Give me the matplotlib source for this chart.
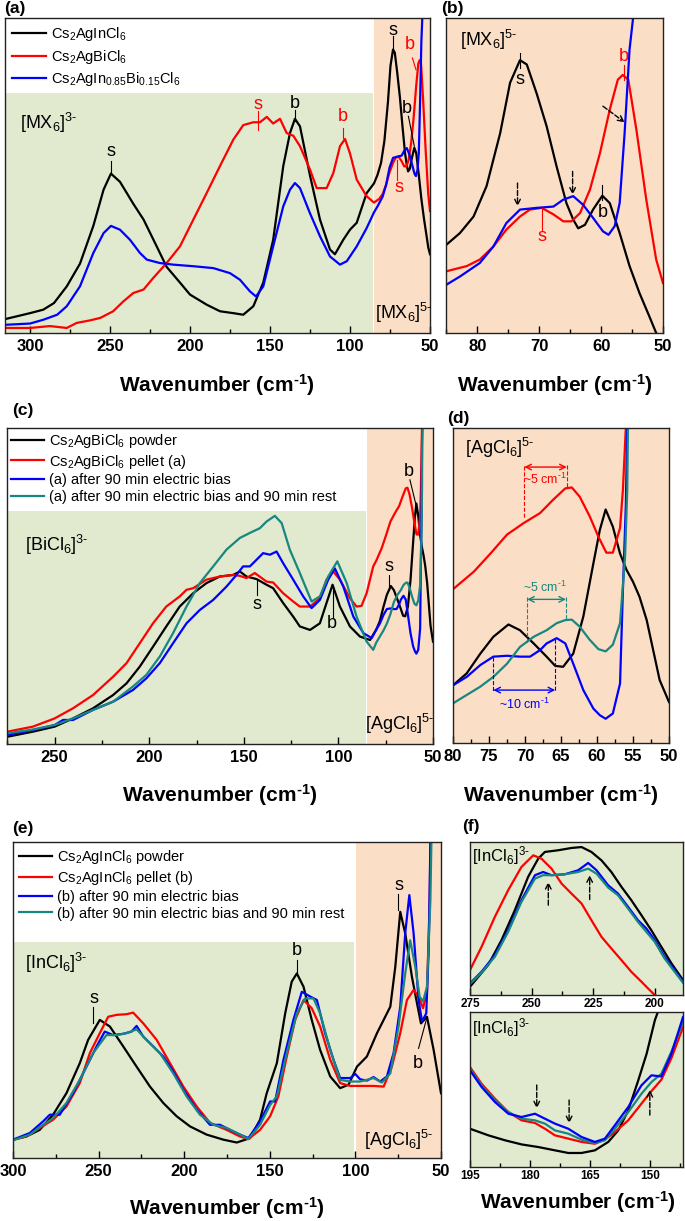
import numpy as np
import matplotlib as mpl
mpl.use('Agg')
import matplotlib.pyplot as plt
from matplotlib.ticker import MultipleLocator

plt.rcParams['font.family'] = ['Liberation Sans', 'DejaVu Sans']
plt.rcParams['mathtext.fontset'] = 'custom'
plt.rcParams['mathtext.rm'] = 'Liberation Sans'
plt.rcParams['mathtext.it'] = 'Liberation Sans:italic'
plt.rcParams['mathtext.bf'] = 'Liberation Sans:bold'

# ---- panel (a)/(b): Cs2AgInCl6, Cs2AgBiCl6, mixed (same data, two x windows)
a_wn_black = [315.6, 300, 291.7, 285, 277, 268.75, 260.4, 254, 249.4, 243.75, 235.4, 229, 220.8, 214.6,
              206.25, 200, 189.6, 181.25, 172.9, 166.7, 160.4, 154.2, 148, 141.7, 137.5, 134.4, 131.25,
              125, 118.75, 112.5, 109.4, 104.2, 100, 95.8, 89.6,
              85, 82.8, 80.6, 78.5, 76.3, 74.7, 73.1, 72, 70.4, 68.8, 67.2, 65.6, 64.5, 63.7, 62.6,
              61.3, 59.8, 58.6, 57, 55.4, 53.8, 52.2, 51.1, 50]
a_int_black = [4.4, 6.3, 7.4, 9.5, 14.8, 22, 34, 45.5, 50.6, 48, 41, 36, 27.5, 21,
               16, 12.2, 9, 6.9, 6.3, 5.8, 8.5, 16, 29.6, 53, 63.5, 68, 65.6,
               50, 36, 26.5, 25, 29.6, 32.8, 35, 44.4,
               47.5, 50.2, 54, 61, 73.2, 84.8, 90, 89, 82.3, 74.8, 65.6, 57.1, 53.3, 51.3, 52.1,
               55.6, 58.8, 57.1, 50.2, 42.6, 36.4, 31, 27.2, 25]
a_wn_red = [315.6, 300, 287.5, 277, 270.8, 262.5, 256, 248, 241.7, 235.4, 229, 222.9, 214.6, 206.25,
            197.9, 189.6, 181.25, 172.9, 166.7, 160.4, 156.25, 152, 148, 143.75, 139.6, 135.4, 131.25,
            125, 120.8, 114.6, 110.4, 106.25, 103.1, 100, 95.8, 89.6,
            85, 81.7, 79.6, 77.4, 75.3, 73.1, 71.5, 69.6, 67.7, 66.1, 64.8, 63.4, 61.8, 60.2, 58.6,
            57.3, 56.5, 55.6, 54.3, 52.7, 51.1, 50]
a_int_red = [1.6, 1.6, 2.2, 1.6, 3.2, 4, 4.8, 6.9, 10, 12.7, 13.8, 17.5, 22.2, 27.5,
             36, 44.4, 53, 61.4, 66, 66.9, 66.9, 68.6, 66.5, 68, 63.5, 62.6, 59.3,
             51.9, 46, 46, 50.8, 59.3, 61.6, 57, 48.7, 43.4,
             41.4, 42.6, 44.1, 47.1, 51, 54, 55.6, 56, 54.5, 52.9, 52.9, 54.8, 60.2, 68.5, 78.6,
             85.5, 86.6, 85.5, 74, 57.9, 44.1, 38.7]
a_wn_blue = [315.6, 300, 291.7, 283, 277, 268.75, 260.4, 254, 249.4, 243.75, 237.5, 231.25, 227, 218.75,
             210.4, 197.9, 185.4, 175, 168.75, 162.5, 158.75, 154.2, 148, 141.7, 137.5, 134.4, 131.25,
             125, 118.75, 112.5, 106.25, 102, 95.8, 89.6,
             85, 82.8, 79.6, 77.4, 75.3, 73.1, 70.4, 67.7, 66.1, 64.5, 62.9, 61.3, 59.7, 58.8, 57.8,
             57, 56.2, 55.4, 54.8, 53.8, 50]
a_int_blue = [2.6, 3, 4.2, 5.8, 8.5, 14.8, 25.4, 31.7, 34, 32.8, 29.6, 25.4, 23.3, 22.2,
              21.7, 21.2, 20.6, 19, 16.9, 13.2, 11.6, 14.8, 27.5, 40.2, 45.5, 47.6, 46,
              38, 30.7, 24.3, 21.7, 22.8, 27.5, 33.3,
              38.3, 40.2, 43.3, 47.1, 52.5, 55.6, 56, 56.3, 57.9, 58.7, 56.7, 53.7, 50.6, 49.8, 51.8,
              57.1, 73.2, 92.5, 100.1, 115, 140]

# ---- panel (c)/(d): Cs2AgBiCl6 powder / pellet / bias / bias+rest
c_wn_black = [275, 261.5, 250, 240.3, 229.7, 219.1, 212, 205, 198, 191, 183.9, 176.8, 169.8, 162.7,
              155.6, 152.1, 148.6, 143.3, 138, 134.5, 129.2, 123.9, 120.4, 115, 109.8, 106.3, 103.1,
              99.2, 93.9, 88.6, 83.3,
              80, 78.1, 76.2, 74.4, 72.3, 70.7, 68.8, 67, 65.8, 64.7, 63.3, 61.9, 60.5, 59.6, 58.8,
              57.8, 56.8, 55.9, 55, 54.1, 53.1, 52.2, 51.3, 50]
c_int_black = [2.3, 3.9, 5.5, 8.1, 11.3, 15.5, 19.2, 24.5, 30.8, 37.2, 43.5, 47.7, 50.9, 53,
               53.5, 54.6, 53, 52.2, 50.4, 49.3, 44.6, 40.3, 37.2, 36.1, 38.2, 44.6, 50.4,
               43.5, 37.2, 34, 32.9,
               36.2, 38.9, 43.4, 47.2, 50, 48.7, 45.7, 42.7, 40.6, 40.4, 43.4, 51.8, 63.9, 71.5, 76.1,
               72.2, 66.1, 62.4, 59.7, 56.3, 51, 44.2, 37.4, 32.4]
c_wn_red = [275, 261.5, 250, 240.3, 229.7, 219.1, 212, 205, 198, 191, 183.9, 180.3, 176.8, 169.8,
            162.7, 155.6, 152.1, 148.6, 144.2, 138, 134.5, 129.2, 123.9, 120.4, 115, 109.8, 106.3,
            102.7, 99.2, 93.9, 90.4, 87.8, 85.1, 81.6,
            80, 77.1, 74.8, 72.5, 70.2, 67.9, 66.1, 64.4, 63.5, 62.4, 61, 59.8, 58.7, 57.8, 56.8,
            56.4, 56, 55.5, 50]
c_int_red = [3.9, 5.5, 8.1, 11.3, 15.5, 21.3, 25.6, 31.9, 38.2, 43.5, 46.7, 48.8, 49.3, 52,
             53, 53.5, 53.2, 52.5, 54.1, 51.4, 51.1, 47.7, 45.1, 43.5, 43.5, 46.1, 52,
             54.6, 52, 46.1, 43.5, 43.7, 47.7, 56.2,
             58, 62, 66.1, 70.4, 73, 75.3, 78.3, 80.9, 81.1, 79, 74.5, 69.9, 66.3, 66.3, 71.9,
             80.6, 94.6, 110, 120]
c_wn_blue = [275, 261.5, 250, 245.6, 240.3, 229.7, 219.1, 208.6, 201.5, 194.4, 187.4, 180.3, 173.3,
             166.2, 159.2, 153.9, 150.4, 146.8, 143.3, 139.8, 136.2, 132.7, 129.2, 123.9, 118.6,
             114.2, 109.8, 105.4, 101.9, 97.4, 92.1, 86.8, 82.4,
             80, 78.1, 76.2, 74.4, 72.5, 70.7, 69.3, 67.9, 67, 65.6, 64.4, 63.3, 61.9, 60.5, 59.6,
             58.8, 57.8, 56.8, 56.4, 56, 55.8, 55.4, 50]
c_int_blue = [2.9, 4.4, 6, 7.6, 7.6, 10.8, 13.4, 17.1, 20.8, 25.6, 31.9, 38.2, 42.4,
              45.6, 49.8, 53.5, 56.2, 56.2, 58.3, 60.4, 59.9, 60.9, 57.2, 52, 46.7,
              43, 45.6, 52, 55.6, 49.8, 40.3, 35.1, 33.5,
              36.2, 38.1, 40.8, 42.7, 42.9, 42.7, 42.7, 44.2, 45.7, 46.9, 45.7, 41.1, 35.1, 30.9, 29.4,
              28.6, 29.8, 36.6, 57.9, 76.8, 94.6, 110, 120]
c_wn_teal = [275, 261.5, 250, 240.3, 229.7, 219.1, 208.6, 201.5, 194.4, 187.4, 180.3, 173.3, 166.2,
             159.2, 152.1, 146.8, 141.5, 138, 133.6, 130, 125.7, 120.4, 114.2, 109.8, 105.4, 100.6,
             95.6, 90.4, 85.1, 81.6,
             80, 78.1, 76.2, 74.4, 72.5, 70.7, 68.8, 67, 65.6, 64.4, 63.5, 62.4, 61, 59.8, 58.8,
             57.8, 56.8, 56.1, 55.8, 55.7, 55.3, 50]
c_int_teal = [3.4, 4.6, 6, 8.1, 10.8, 13.4, 18.2, 21.9, 27.7, 35.1, 43.5, 50.9, 56.2,
              61.5, 65.2, 66.8, 68.3, 70.4, 72.2, 69.9, 61.5, 54.1, 45.1, 46.7, 53, 57.8,
              50.9, 40.3, 32.4, 29.8,
              32.1, 34, 35.9, 38.1, 41.1, 44.9, 47.2, 48.7, 50.3, 51, 51.1, 49.5, 46.5, 44.4, 43.9,
              45.4, 50.3, 65.4, 80.6, 94.6, 110, 120]

# ---- panel (e): Cs2AgInCl6 powder / pellet / bias / bias+rest
e_wn_black = [300, 292.2, 284.4, 276.6, 268.8, 261, 256.1, 249.3, 243.4, 235.6, 227.8, 220, 212.2,
              204.4, 196.6, 186.9, 177.1, 169.3, 161.5, 155.7, 151.8, 145.9, 141, 137.2, 134.2,
              130.3, 125.5, 120.6, 114.7, 108.9, 104, 99.1, 93.3, 87.4, 79.6, 76.7, 73.8, 70.9, 67,
              64, 61.7, 58.2, 54.3, 50]
e_int_black = [5.8, 6.8, 8.9, 13.7, 20.5, 30, 37.4, 43.7, 41.6, 35.3, 28.9, 22.6, 17.4,
               13.2, 10, 7.4, 5.8, 4.9, 6.3, 12.1, 20.5, 30, 45.8, 55.8, 58.4,
               54.2, 43.7, 34.2, 25.8, 22.1, 23.2, 28.9, 32.1, 39.5, 47.9, 60.5, 77.9, 71.1, 57.4,
               48.9, 42.6, 44.7, 34.2, 20.5]
e_wn_red = [300, 292.2, 284.4, 276.6, 268.8, 261, 255.1, 249.3, 244.4, 239.5, 233.7, 229.8, 223.9,
            216.1, 208.3, 200.5, 192.7, 184.9, 175.2, 167.4, 162.5, 155.7, 149.8, 145, 140.1,
            135.2, 130.3, 125.5, 120.6, 114.7, 108.9, 103, 97.2, 89.4, 83.5, 78.7, 73.8, 69.9, 66,
            63.1, 60.5, 58.2, 56.6, 55.9, 50]
e_int_red = [5.8, 6.8, 9.5, 12.1, 16.3, 23.7, 33.2, 39.5, 44.7, 45.3, 45.5, 46, 42.6,
             37.4, 30, 22.6, 16.3, 11.1, 8.9, 6.8, 6, 8.9, 13.2, 19.5, 32.1,
             43.7, 50, 47.4, 41.6, 31.1, 23.7, 22.8, 22.8, 22.8, 22.6, 28.9, 39.5, 50, 53.2,
             51.1, 47.4, 52.6, 81.6, 110, 130]
e_wn_blue = [300, 290.2, 282.4, 278.5, 272.7, 264.9, 257.1, 251.2, 246.4, 241.5, 235.6, 230.8, 227.8,
             223.9, 218.1, 212.2, 206.4, 200.5, 192.7, 184.9, 179.1, 173.2, 167.4, 162.5, 155.7,
             149.8, 146.9, 142, 136.2, 131.3, 126.4, 122.5, 117.7, 112.8, 108.9, 103, 100.1, 97.2,
             93.3, 89.4, 85.5, 81.6, 77.7, 73.8, 70.9, 68.5, 66, 63.1, 61.1, 58.6, 57.2, 55.9, 50]
e_int_blue = [5.8, 7.9, 11.6, 13.7, 13.7, 20.5, 28.9, 35.3, 40, 38.9, 39.3, 40, 41.8,
              38.4, 35.3, 32.1, 27.4, 21.6, 15.3, 10.5, 10.5, 8.9, 7.4, 6.3, 11.6,
              17.9, 17.9, 31.1, 43.7, 52.6, 51.1, 50, 39.5, 31.1, 25.3, 25.3, 26.6, 24.9,
              24.5, 25.6, 24.2, 25.8, 33.2, 47.9, 71.1, 83.2, 71.1, 50, 43.2, 45.8, 65.8, 110, 130]
e_wn_teal = [300, 290.2, 282.4, 276.6, 268.8, 261, 253.2, 245.4, 239.5, 233.7, 227.8, 222, 214.2,
             206.4, 198.6, 190.8, 183, 175.2, 167.4, 162.5, 155.7, 149.8, 145.9, 140.1, 134.2,
             129.4, 124.5, 120.6, 114.7, 108.9, 103, 97.2, 89.4, 84.5, 79.6, 74.8, 70.9, 68, 65,
             62.5, 60.5, 58.2, 56.2, 55.3, 50]
e_int_teal = [5.6, 7.4, 10.5, 12.6, 17.4, 24.7, 33.2, 38.9, 38.9, 39.5, 40.7, 37.4, 33.2,
              26.8, 19.5, 13.7, 10.5, 9.5, 7.4, 6, 10.5, 16.8, 19.5, 33.2, 45.8,
              50.5, 50.5, 45.8, 34.2, 24.7, 24.2, 24.2, 25.3, 23.9, 26.8, 41.6, 58.4, 68.9, 60.5,
              51.1, 49.5, 54.2, 81.6, 110, 130]

# ---- panel (f), upper window 275-189 cm-1
f1_wn = [275, 270.3, 264.9, 259.5, 254.1, 248.6, 245.3, 241.9, 236.5, 231.1, 227, 223.6, 218.9,
         214.9, 210.8, 206.8, 203.4, 200, 196, 191.9, 188.5]
f1_int_blue = [7.6, 15.2, 26.1, 42.4, 62, 78.3, 80.4, 78.3, 78.9, 81.5, 86.3, 81.5, 71.7,
               66.3, 57.6, 48.9, 43.5, 35.9, 25, 16.3, 8.7]
f1_int_teal = [7.2, 14.6, 25, 41.3, 60.9, 76.1, 78.3, 78.3, 78.9, 80.4, 82.6, 79.3, 70.2,
               65.2, 56.5, 47.8, 41.3, 34.8, 23.9, 15.2, 8]
f1_wn_black = [275, 267.6, 262.2, 256.8, 251.4, 247.3, 244.6, 239.2, 233.8, 229.7, 225.7, 221.6,
               217.6, 213.5, 209.5, 205.4, 201.4, 197.3, 193.2, 188.5]
f1_int_black = [5.4, 19.6, 35.9, 55.4, 77.2, 89.1, 93.5, 94.6, 96.1, 96.7, 93.5, 88,
                80.4, 70.7, 62, 52.2, 42.4, 31.5, 20.7, 9.8]
f1_wn_red = [275, 270.3, 264.9, 259.5, 254.1, 249.3, 246, 241.9, 237.8, 233.8, 229.7, 225.7,
             221.6, 217.6, 213.5, 209.5, 205.4, 202.7, 200, 190]
f1_int_red = [16.3, 31.5, 51.1, 68.5, 83.7, 91.3, 89.1, 82.6, 72.8, 66.3, 59.8, 48.9,
              38, 30.4, 22.8, 15.2, 8.7, 4.3, 0, -10]

# ---- panel (f), lower window 195-142 cm-1
f2_wn = [195, 192.1, 188.75, 185.4, 182.1, 178.75, 176.25, 173.75, 170.4, 167.1, 163.75, 161.25,
         158.75, 155.4, 152.1, 149.6, 147.1, 144.6, 141.7]
f2_int_red = [60.6, 50.5, 41.4, 33.3, 28.3, 26.7, 23.2, 19.2, 17.2, 15.2, 14.1, 16.6,
              21.2, 28.3, 38.4, 46, 53, 66, 84.8]
f2_int_blue = [58.6, 48.5, 39.4, 32.3, 30.3, 32.3, 29.3, 26.3, 23.2, 18.2, 15.2, 17.2,
               25.3, 36.4, 49.5, 55.6, 54.9, 68.7, 90.9]
f2_int_teal = [59.6, 49.5, 40.4, 33.3, 29.3, 28.3, 26.3, 22.2, 20.2, 16.6, 14.5, 16.2,
               23.2, 33.3, 44.4, 51.5, 56.6, 70, 87.9]
f2_wn_black = [195, 190.4, 186.25, 182.1, 177.9, 173.75, 170.4, 167.1, 163.75, 160.4, 157.9,
               155.4, 152.9, 150.8, 148.75, 147.1, 145]
f2_int_black = [23.2, 19.2, 16.2, 13.7, 12.1, 10.1, 8.5, 8.5, 10.1, 15.2, 22.2,
                34.3, 52.5, 68.7, 88.9, 100, 115]

legend_a = ['Cs$_2$AgInCl$_6$', 'Cs$_2$AgBiCl$_6$', 'Cs$_2$AgIn$_{0.85}$Bi$_{0.15}$Cl$_6$']
legend_c = ['Cs$_2$AgBiCl$_6$ powder', 'Cs$_2$AgBiCl$_6$ pellet (a)',
            '(a) after 90 min electric bias', '(a) after 90 min electric bias and 90 min rest']
legend_e = ['Cs$_2$AgInCl$_6$ powder', 'Cs$_2$AgInCl$_6$ pellet (b)',
            '(b) after 90 min electric bias', '(b) after 90 min electric bias and 90 min rest']

BLACK, RED, BLUE, TEAL = 'k', '#ff0000', '#0000ff', '#17877f'
GREEN_BG, ORANGE_BG = '#e1e9cf', '#fbdec6'
LW = 1.6
W, H = 685, 1221

fig = plt.figure(figsize=(W / 100, H / 100), dpi=100)


def px_axes(x0, y0, x1, y1):
    return fig.add_axes([x0 / W, 1 - y1 / H, (x1 - x0) / W, (y1 - y0) / H])


def style(ax, xlim, ylim, major, minor, tsize=12):
    ax.set_xlim(*xlim)
    ax.set_ylim(*ylim)
    ax.set_xticks(major)
    ax.xaxis.set_minor_locator(MultipleLocator(minor))
    ax.set_yticks([])
    ax.tick_params(axis='x', which='both', direction='in', labelsize=tsize, pad=4)
    ax.tick_params(axis='x', which='major', length=5, width=1)
    ax.tick_params(axis='x', which='minor', length=3, width=1)
    plt.setp(ax.get_xticklabels(), fontweight='bold')
    for sp in ax.spines.values():
        sp.set_linewidth(1.0)
        sp.set_color('#222222')


def mark(ax, s, color, tx, ty, lx0, ly0, lx1, ly1, size=13):
    # text label + short marker line; y given as axes fraction
    tr = ax.get_xaxis_transform()
    ax.text(tx, ty, s, color=color, fontsize=size, ha='center', va='center', transform=tr)
    ax.plot([lx0, lx1], [ly0, ly1], color=color, lw=0.8, transform=tr)


def arrow(ax, x0, y0, x1, y1, color='k', style='->', ls='--'):
    tr = ax.get_xaxis_transform()
    ax.annotate('', xy=(x1, y1), xytext=(x0, y0), xycoords=tr, textcoords=tr,
                arrowprops=dict(arrowstyle=style, color=color, lw=1.0, ls=ls,
                                shrinkA=0, shrinkB=0, mutation_scale=10))


def region_text(ax, s, x, y, size=13):
    ax.text(x, y, s, fontsize=size, ha='left', va='center', transform=ax.get_xaxis_transform())


# ================= (a)
ax = px_axes(5, 18, 430, 333)
ax.axvspan(315.6, 85.6, ymin=0, ymax=0.762, color=GREEN_BG, lw=0)
ax.axvspan(85.2, 50, color=ORANGE_BG, lw=0)
ax.plot(a_wn_black, a_int_black, color=BLACK, lw=LW, label=legend_a[0])
ax.plot(a_wn_red, a_int_red, color=RED, lw=LW, label=legend_a[1])
ax.plot(a_wn_blue, a_int_blue, color=BLUE, lw=LW, label=legend_a[2])
style(ax, (315.6, 50), (0, 100), [300, 250, 200, 150, 100, 50], 25)
ax.legend(loc='upper left', frameon=False, fontsize=10.5, handlelength=2.3, handletextpad=0.35,
          labelspacing=0.3, borderaxespad=0.2, borderpad=0.3)
mark(ax, 's', BLACK, 249.4, 0.577, 249.4, 0.545, 249.4, 0.508)
mark(ax, 's', RED, 157.3, 0.725, 157.3, 0.704, 157.3, 0.646)
mark(ax, 'b', BLACK, 134.4, 0.728, 134.4, 0.709, 134.4, 0.672)
mark(ax, 'b', RED, 104.2, 0.688, 104.2, 0.651, 104.2, 0.619)
mark(ax, 's', BLACK, 72.9, 0.96, 72.9, 0.942, 72.9, 0.902)
mark(ax, 'b', RED, 62.5, 0.917, 61.0, 0.873, 58.75, 0.836)
mark(ax, 'b', BLACK, 64.2, 0.714, 63.5, 0.688, 59.8, 0.593)
mark(ax, 's', RED, 69.4, 0.463, 70.4, 0.487, 70.4, 0.55)
region_text(ax, '[MX$_6$]$^{3\u2010}$', 306.3, 0.667)
region_text(ax, '[MX$_6$]$^{5\u2010}$', 84.4, 0.063)

# ================= (b)
ax = px_axes(446, 18, 663, 333)
ax.set_facecolor(ORANGE_BG)
ax.plot(a_wn_black, a_int_black, color=BLACK, lw=LW)
ax.plot(a_wn_red, a_int_red, color=RED, lw=LW)
ax.plot(a_wn_blue, a_int_blue, color=BLUE, lw=LW)
style(ax, (85.05, 50), (27.2, 99.7), [80, 70, 60, 50], 5)
mark(ax, 's', BLACK, 73.1, 0.804, 73.1, 0.889, 73.1, 0.841)
mark(ax, 'b', RED, 56.3, 0.878, 56.3, 0.852, 56.3, 0.804)
mark(ax, 'b', BLACK, 59.8, 0.381, 59.8, 0.471, 59.8, 0.423)
mark(ax, 's', RED, 69.6, 0.307, 69.6, 0.397, 69.6, 0.328)
region_text(ax, '[MX$_6$]$^{5\u2010}$', 82.8, 0.931)
arrow(ax, 73.5, 0.476, 73.5, 0.402)
arrow(ax, 64.6, 0.513, 64.6, 0.439)
arrow(ax, 59.7, 0.720, 56.2, 0.669)

# ================= (c)
ax = px_axes(7, 428, 433, 744)
ax.axvspan(275.2, 85.6, ymin=0, ymax=0.736, color=GREEN_BG, lw=0)
ax.axvspan(85.0, 50, color=ORANGE_BG, lw=0)
ax.plot(c_wn_black, c_int_black, color=BLACK, lw=LW, label=legend_c[0])
ax.plot(c_wn_red, c_int_red, color=RED, lw=LW, label=legend_c[1])
ax.plot(c_wn_blue, c_int_blue, color=BLUE, lw=LW, label=legend_c[2])
ax.plot(c_wn_teal, c_int_teal, color=TEAL, lw=LW, label=legend_c[3])
style(ax, (275.2, 50), (0, 100), [250, 200, 150, 100, 50], 25)
ax.legend(loc='upper left', frameon=False, fontsize=10.5, handlelength=2.3, handletextpad=0.35,
          labelspacing=0.2, borderaxespad=0.1, borderpad=0.15)
mark(ax, 's', BLACK, 142.8, 0.44, 142.8, 0.52, 142.8, 0.472)
mark(ax, 'b', BLACK, 103.6, 0.382, 103.1, 0.498, 103.1, 0.403)
mark(ax, 's', BLACK, 73.3, 0.562, 73.3, 0.535, 73.3, 0.488)
mark(ax, 'b', BLACK, 63.0, 0.863, 62.2, 0.836, 59.0, 0.757)
region_text(ax, '[BiCl$_6$]$^{3\u2010}$', 265.9, 0.63)
region_text(ax, '[AgCl$_6$]$^{5\u2010}$', 85.9, 0.062)

# ================= (d)
ax = px_axes(453, 428, 669, 743)
ax.set_facecolor(ORANGE_BG)
ax.plot(c_wn_black, c_int_black, color=BLACK, lw=LW)
ax.plot(c_wn_red, c_int_red, color=RED, lw=LW)
ax.plot(c_wn_blue, c_int_blue, color=BLUE, lw=LW)
ax.plot(c_wn_teal, c_int_teal, color=TEAL, lw=LW)
style(ax, (80, 50), (23.1, 94.6), [80, 75, 70, 65, 60, 55, 50], 2.5)
region_text(ax, '[AgCl$_6$]$^{5\u2010}$', 78.3, 0.936)
tr = ax.get_xaxis_transform()
for col, xa, xb, ya0, ya1, yb0, yb1, yarr, txt, tx, ty in [
        (RED, 70.1, 64.2, 0.878, 0.714, 0.883, 0.809, 0.876, '~5 cm$^{\u20101}$', 67.2, 0.838),
        (TEAL, 69.7, 64.3, 0.464, 0.316, 0.464, 0.390, 0.456, '~5 cm$^{\u20101}$', 67.2, 0.493),
        (BLUE, 74.4, 65.8, 0.274, 0.162, 0.329, 0.162, 0.168, '~10 cm$^{\u20101}$', 70.1, 0.123)]:
    ax.plot([xa, xa], [ya0, ya1], color=col, lw=0.8, ls='--', transform=tr)
    ax.plot([xb, xb], [yb0, yb1], color=col, lw=0.8, ls='--', transform=tr)
    arrow(ax, xa, yarr, xb, yarr, color=col, style='<->', ls='-')
    ax.text(tx, ty, txt, color=col, fontsize=9, ha='center', va='center', transform=tr)

# ================= (e)
ax = px_axes(13, 842, 441, 1158)
ax.axvspan(300, 100.6, ymin=0, ymax=0.684, color=GREEN_BG, lw=0)
ax.axvspan(99.8, 50, color=ORANGE_BG, lw=0)
ax.plot(e_wn_black, e_int_black, color=BLACK, lw=LW, label=legend_e[0])
ax.plot(e_wn_red, e_int_red, color=RED, lw=LW, label=legend_e[1])
ax.plot(e_wn_blue, e_int_blue, color=BLUE, lw=LW, label=legend_e[2])
ax.plot(e_wn_teal, e_int_teal, color=TEAL, lw=LW, label=legend_e[3])
style(ax, (300, 50), (0, 100), [300, 250, 200, 150, 100, 50], 25)
ax.legend(loc='upper left', frameon=False, fontsize=10.5, handlelength=2.3, handletextpad=0.35,
          labelspacing=0.2, borderaxespad=0.1, borderpad=0.3)
mark(ax, 's', BLACK, 252.6, 0.505, 253.2, 0.479, 253.2, 0.426)
mark(ax, 'b', BLACK, 134.2, 0.656, 134.2, 0.626, 134.2, 0.584)
mark(ax, 's', BLACK, 74.8, 0.863, 75.4, 0.837, 75.4, 0.784)
mark(ax, 'b', BLACK, 63.7, 0.30, 63.1, 0.347, 58.6, 0.437)
region_text(ax, '[InCl$_6$]$^{3\u2010}$', 293.2, 0.616)
region_text(ax, '[AgCl$_6$]$^{5\u2010}$', 94.7, 0.056)

# ================= (f) upper
ax = px_axes(470, 842, 683, 995)
ax.set_facecolor(GREEN_BG)
ax.plot(f1_wn_black, f1_int_black, color=BLACK, lw=LW)
ax.plot(f1_wn_red, f1_int_red, color=RED, lw=LW)
ax.plot(f1_wn, f1_int_blue, color=BLUE, lw=LW)
ax.plot(f1_wn, f1_int_teal, color=TEAL, lw=LW)
style(ax, (275, 188.5), (0, 100), [275, 250, 225, 200], 12.5, tsize=8.5)
ax.tick_params(axis='x', pad=2)
region_text(ax, '[InCl$_6$]$^{3\u2010}$', 274.3, 0.913, size=12)
arrow(ax, 243.2, 0.587, 243.2, 0.739)
arrow(ax, 226.4, 0.624, 226.4, 0.783)

# ================= (f) lower
ax = px_axes(470, 1012, 683, 1167)
ax.set_facecolor(GREEN_BG)
ax.plot(f2_wn_black, f2_int_black, color=BLACK, lw=LW)
ax.plot(f2_wn, f2_int_red, color=RED, lw=LW)
ax.plot(f2_wn, f2_int_teal, color=TEAL, lw=LW)
ax.plot(f2_wn, f2_int_blue, color=BLUE, lw=LW)
style(ax, (195, 141.7), (0, 94), [195, 180, 165, 150], 7.5, tsize=8.5)
ax.tick_params(axis='x', pad=2)
region_text(ax, '[InCl$_6$]$^{3\u2010}$', 194.6, 0.9, size=12)
arrow(ax, 178.3, 0.529, 178.3, 0.378)
arrow(ax, 170.2, 0.432, 170.2, 0.282)
arrow(ax, 150.0, 0.335, 150.0, 0.497)

# ---- panel letters and axis titles
for s, x, y in [('(a)', 4, 8), ('(b)', 441, 8), ('(c)', 12, 411), ('(d)', 447, 419),
                ('(e)', 12, 828), ('(f)', 462, 827)]:
    fig.text(x / W, 1 - y / H, s, fontsize=12.5, fontweight='bold', ha='left', va='center')
xlab = 'Wavenumber (cm$^{\\mathbf{\u20101}}$)'
for x, y in [(217, 385), (555, 385), (220, 795), (561, 795), (227, 1208), (578, 1202)]:
    fig.text(x / W, 1 - y / H, xlab, fontsize=15, fontweight='bold', ha='center', va='center')

fig.savefig('out.png', dpi=100)
